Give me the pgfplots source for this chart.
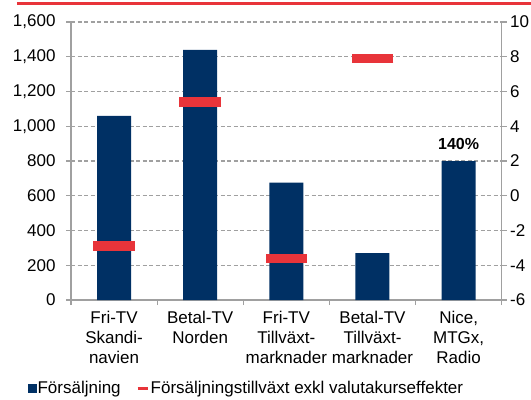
\documentclass[border=0pt]{standalone}
\usepackage{pgfplots}
\pgfplotsset{compat=1.18}
\usepackage{fontspec}
\setmainfont{Liberation Sans}
\definecolor{navy}{RGB}{0,48,100}
\definecolor{mred}{RGB}{232,52,58}
\definecolor{axg}{RGB}{160,160,160}
\begin{document}
\begin{tikzpicture}[font=\fontsize{17bp}{20bp}\selectfont]
\path[use as bounding box] (-71bp,-100bp) rectangle (460bp,300bp);
\draw[mred, line width=3bp] (-54bp,296.5bp) -- (460bp,296.5bp);
\begin{axis}[
  at={(0,0)}, anchor=south west,
  scale only axis, width=430.7bp, height=278bp,
  xmin=-0.5, xmax=4.5, ymin=0, ymax=1600,
  axis x line*=bottom, axis y line*=left,
  axis line style={axg, line width=1.2bp, -},
  tick align=outside, major tick length=5bp,
  tick style={axg, line width=1.2bp},
  xtick={-0.5,0.5,1.5,2.5,3.5,4.5}, xticklabels={},
  extra x ticks={0,1,2,3,4},
  extra x tick labels={{Fri-TV\\Skandi-\\navien},{Betal-TV\\Norden},{Fri-TV\\Tillväxt-\\marknader},{Betal-TV\\Tillväxt-\\marknader},{Nice,\\MTGx,\\Radio}},
  extra x tick style={major tick length=0pt, xticklabel style={align=center, yshift=-8bp}},
  ytick={0,200,...,1600},
  yticklabel style={xshift=-7bp},
  ymajorgrids, major grid style={axg, line width=1.2bp, dash pattern=on 4bp off 2.5bp},
  /pgf/number format/.cd, 1000 sep={,}, assume math mode=true, /pgfplots/.cd,
  legend columns=2,
  legend style={draw=none, fill=none, at={(axis description cs:-0.108,-0.318)}, anchor=west,
    /tikz/every even column/.append style={column sep=14bp}, nodes={inner sep=1.5bp}},
]
\addplot[ybar, bar width=34bp, fill=navy, draw=none, forget plot] coordinates {(0,1060)(1,1440)(2,675)(3,270)(4,800)};
\addlegendimage{legend image code/.code={\fill[navy] (0bp,-4bp) rectangle (8bp,4bp);}}
\addlegendentry{Försäljning}
\addlegendimage{legend image code/.code={\draw[mred, line width=3bp] (0bp,0bp) -- (10bp,0bp);}}
\addlegendentry{Försäljningstillväxt exkl valutakurseffekter}
\node[font=\fontsize{16bp}{20bp}\selectfont\bfseries, above, inner sep=4bp, yshift=7bp] at (axis cs:4,800) {140\%};
\end{axis}
\begin{axis}[
  at={(0,0)}, anchor=south west,
  scale only axis, width=430.7bp, height=278bp,
  xmin=-0.5, xmax=4.5, ymin=-6, ymax=10,
  axis x line=none, axis y line*=right,
  axis line style={axg, line width=1.2bp, -},
  tick align=outside, major tick length=5bp,
  tick style={axg, line width=1.2bp},
  ytick={-6,-4,...,10},
  /pgf/number format/.cd, assume math mode=true, /pgfplots/.cd,
]
\addplot[only marks, mark=-, mark size=20.8bp, mark options={mred, line width=9.3bp}] coordinates {(0,-2.9)(1,5.4)(2,-3.6)(3,7.9)};
\end{axis}
\end{tikzpicture}
\end{document}
